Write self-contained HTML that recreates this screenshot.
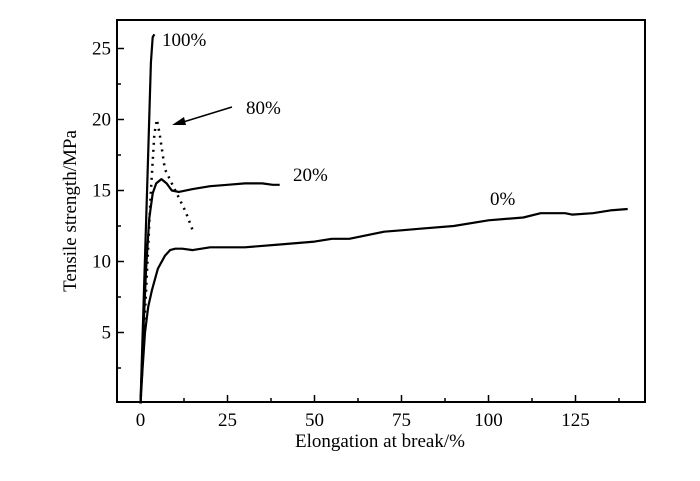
<!DOCTYPE html>
<html><head><meta charset="utf-8"><style>
body{margin:0;background:#fff}
svg{display:block;font-family:"Liberation Serif",serif}
</style></head><body>
<svg id="chart" width="700" height="481">
<rect x="117" y="20" width="528" height="382" fill="none" stroke="#000" stroke-width="2"/>
<g id="axes"></g><g id="series"></g>
<text x="380" y="447" font-size="19" text-anchor="middle">Elongation at break/%</text>
<text transform="translate(76,211) rotate(-90)" font-size="19" text-anchor="middle">Tensile strength/MPa</text>
<text x="162" y="46" font-size="19">100%</text>
<text x="246" y="114" font-size="19">80%</text>
<text x="293" y="181" font-size="19">20%</text>
<text x="490" y="205" font-size="19">0%</text>
<line x1="232" y1="107" x2="180" y2="123" stroke="#000" stroke-width="1.5"/>
<polygon points="172,125 184,117 186,125" fill="#000"/>
</svg>
<script>
const xTicks=[0,25,50,75,100,125];
const yTicks=[5,10,15,20,25];
const s100x=[0,1,2,3,3.5,4];
const s100y=[0,8,16,24,25.8,26];
const s80x=[0,1,2,3,4,4.7,5.5,7,10,13,15];
const s80y=[0,5,10,15,19,20,19,16.5,15,13.5,12.2];
const s20x=[0,0.8,1.6,2.5,3.5,4.5,6,7.5,9,11,15,20,25,30,35,38,40];
const s20y=[0,5,9.5,13,14.8,15.5,15.8,15.5,15,14.9,15.1,15.3,15.4,15.5,15.5,15.4,15.4];
const s0x=[0,0.6,1.3,2.2,3.3,5,7,8.5,10,12,15,20,30,40,50,55,60,70,75,80,90,100,105,110,115,122,124,130,135,140];
const s0y=[0,2.5,5,6.8,8,9.5,10.4,10.8,10.9,10.9,10.8,11,11,11.2,11.4,11.6,11.6,12.1,12.2,12.3,12.5,12.9,13,13.1,13.4,13.4,13.3,13.4,13.6,13.7];
const X=v=>140.5+v*3.48, Y=v=>403.5-v*14.2;
const NS="http://www.w3.org/2000/svg";
const ax=document.getElementById('axes'), se=document.getElementById('series');
function mk(tag,at,p){const e=document.createElementNS(NS,tag);for(const k in at)e.setAttribute(k,at[k]);p.appendChild(e);return e;}
xTicks.forEach(t=>{
 const l=mk('line',{x1:X(t),x2:X(t),y1:402,y2:395,stroke:'#000','stroke-width':1.5},ax);
 
 
 const m=mk('line',{x1:X(t+12.5),x2:X(t+12.5),y1:402,y2:398,stroke:'#000','stroke-width':1.5},ax);
 
 
 const tx=mk('text',{x:X(t),y:426,'font-size':19,'text-anchor':'middle'},ax);
 tx.textContent=t;
 
 
});
yTicks.concat([0]).forEach(t=>{
 if(t>0){
 const l=mk('line',{x1:117,x2:124,y1:Y(t),y2:Y(t),stroke:'#000','stroke-width':1.5},ax);
 
 
 const tx=mk('text',{x:111,y:Y(t)+6,'font-size':19,'text-anchor':'end'},ax);
 tx.textContent=t;
 
 }
 if(t+2.5<26){
 const m=mk('line',{x1:117,x2:121,y1:Y(t+2.5),y2:Y(t+2.5),stroke:'#000','stroke-width':1.5},ax);
 
 }
});
function path(xs,ys,name,dash){
 const d=xs.map((x,i)=>(i?'L':'M')+X(x).toFixed(1)+','+Y(ys[i]).toFixed(1)).join('');
 const p=mk('path',{d:d,fill:'none',stroke:'#000','stroke-width':dash?2.5:2.2,'stroke-linejoin':'round'},se);
 if(dash)p.setAttribute('stroke-dasharray','2 5');
 
 
}
path(s0x,s0y,'series-0pct');
path(s20x,s20y,'series-20pct');
path(s80x,s80y,'series-80pct',true);
path(s100x,s100y,'series-100pct');
</script>
</body></html>
